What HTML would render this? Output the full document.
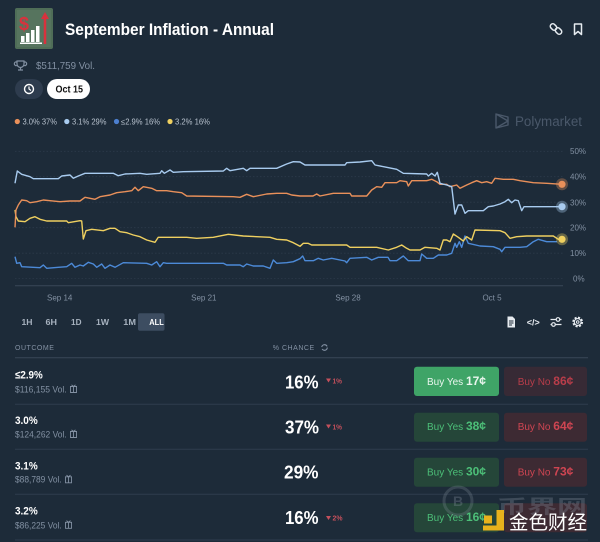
<!DOCTYPE html>
<html><head><meta charset="utf-8"><style>
html,body{margin:0;padding:0;background:#1d2b39;}
svg{display:block;}
text{font-family:"Liberation Sans","Noto Sans CJK SC",sans-serif;}
</style></head><body>
<svg width="600" height="542" viewBox="0 0 600 542" xmlns="http://www.w3.org/2000/svg">
<rect width="600" height="542" fill="#1d2b39"/>

<!-- market icon -->
<rect x="15" y="8" width="38" height="41" rx="2" fill="#4f6d57"/>
<rect x="17" y="10" width="34" height="37" fill="#5b7a62" opacity="0.6"/>
<text x="19" y="30" font-size="18" font-weight="bold" fill="#d8323d">$</text>
<rect x="21" y="36" width="3.5" height="6" fill="#fff"/>
<rect x="26" y="33" width="3.5" height="9" fill="#fff"/>
<rect x="31" y="30" width="3.5" height="12" fill="#fff"/>
<rect x="36" y="26" width="3.5" height="16" fill="#fff"/>
<rect x="20" y="42.5" width="22" height="1.5" fill="#fff"/>
<path d="M45,44 V17" stroke="#d8323d" stroke-width="2.5"/>
<path d="M41,19 L45,12 L49,19 Z" fill="#d8323d"/>

<!-- title -->
<text x="65" y="35" font-size="17" font-weight="bold" fill="#ffffff" textLength="209" lengthAdjust="spacingAndGlyphs">September Inflation - Annual</text>

<!-- header icons -->
<g stroke="#e6ebf0" stroke-width="1.5" fill="none">
<rect x="550" y="24.5" width="7" height="5" rx="2.5" transform="rotate(45 553.5 27)"/>
<rect x="555" y="28.5" width="7" height="5" rx="2.5" transform="rotate(45 558.5 31)"/>
<path d="M574.5,24 H581.5 V34.5 L578,31.5 L574.5,34.5 Z" stroke-linejoin="round"/>
</g>

<!-- trophy + vol -->
<g stroke="#8391a3" stroke-width="1.2" fill="none">
<path d="M17,61 H24 V64 A3.5,3.5 0 0 1 17,64 Z"/>
<path d="M17,62 H15.5 A1.8,1.8 0 0 0 17,65.5 M24,62 H25.5 A1.8,1.8 0 0 1 24,65.5"/>
<path d="M20.5,67.5 V69.5 M18,70 H23"/>
</g>
<text x="36" y="69" font-size="10.5" fill="#8391a3" textLength="59" lengthAdjust="spacingAndGlyphs">$511,759 Vol.</text>

<!-- clock button & date pill -->
<rect x="15" y="79" width="28" height="20" rx="10" fill="#2e3c4e"/>
<circle cx="29" cy="89" r="4.5" stroke="#ffffff" stroke-width="1.4" fill="none"/>
<path d="M29,86.5 V89 L31,90.5" stroke="#ffffff" stroke-width="1.2" fill="none"/>
<rect x="47" y="79" width="43" height="20" rx="10" fill="#ffffff"/>
<text x="55.5" y="92.7" font-size="10.5" font-weight="bold" fill="#111" textLength="27.5" lengthAdjust="spacingAndGlyphs">Oct 15</text>

<!-- legend -->
<circle cx="17.3" cy="121.5" r="2.6" fill="#e9905a"/>
<text x="22.5" y="124.3" font-size="8" fill="#b8c2ce" textLength="34.5" lengthAdjust="spacingAndGlyphs">3.0% 37%</text>
<circle cx="66.8" cy="121.5" r="2.6" fill="#a8cbef"/>
<text x="72" y="124.3" font-size="8" fill="#b8c2ce" textLength="34.5" lengthAdjust="spacingAndGlyphs">3.1% 29%</text>
<circle cx="116.5" cy="121.5" r="2.6" fill="#4c7fcf"/>
<text x="121" y="124.3" font-size="8" fill="#b8c2ce" textLength="39" lengthAdjust="spacingAndGlyphs">≤2.9% 16%</text>
<circle cx="170" cy="121.5" r="2.6" fill="#efd060"/>
<text x="175" y="124.3" font-size="8" fill="#b8c2ce" textLength="35" lengthAdjust="spacingAndGlyphs">3.2% 16%</text>

<!-- Polymarket watermark -->
<g stroke="#4a586a" stroke-width="1.4" fill="none" stroke-linejoin="round">
<path d="M496,114 L508,117 V125 L496,128 Z"/>
<path d="M496,114 L508,121 L496,128"/>
</g>
<text x="515" y="126" font-size="13.5" fill="#4a586a" textLength="67" lengthAdjust="spacingAndGlyphs">Polymarket</text>

<!-- grid -->
<g stroke="#2c3a4a" stroke-width="0.8" stroke-dasharray="1.5,2">
<line x1="15" y1="151.3" x2="563" y2="151.3"/>
<line x1="15" y1="176.7" x2="563" y2="176.7"/>
<line x1="15" y1="202.2" x2="563" y2="202.2"/>
<line x1="15" y1="227.7" x2="563" y2="227.7"/>
<line x1="15" y1="253.2" x2="563" y2="253.2"/>
<line x1="15" y1="278.5" x2="563" y2="278.5"/>
</g>
<line x1="15" y1="285.7" x2="563" y2="285.7" stroke="#3a4859" stroke-width="1"/>

<!-- y labels -->
<g font-size="8" fill="#8391a3">
<text x="570" y="154.2">50%</text>
<text x="570" y="179.6">40%</text>
<text x="570" y="205.3">30%</text>
<text x="570" y="230.6">20%</text>
<text x="570" y="256.2">10%</text>
<text x="573" y="281.3">0%</text>
</g>
<!-- x labels -->
<g font-size="8" fill="#8391a3" text-anchor="middle">
<text x="59.7" y="300.5">Sep 14</text>
<text x="203.8" y="300.5">Sep 21</text>
<text x="348" y="300.5">Sep 28</text>
<text x="492" y="300.5">Oct 5</text>
</g>

<!-- series -->
<g fill="none" stroke-width="1.4" stroke-linejoin="round">
<polyline stroke="#4c8ad8" points="15,256.7 16.7,263.3 20,262.7 21.7,266.7 40,267.7 43.3,265 46.7,268.3 58.3,267.3 66.7,266.7 71.7,263.3 75,267.3 80,265 83.3,266 88.3,262.3 93.3,264 96.7,267.3 101.7,264 105,268.3 110,265 115,267.3 123.3,262.7 146.7,263.3 151.7,265 156.7,261.7 160,266.7 163.3,262.7 166.7,263.3 223.3,263.3 226.7,265 240,265 243.3,266.7 246.7,264 253.3,266 263.3,266 270,268.3 273.3,260 276.7,263.3 286.7,262.7 293.3,261.7 300,258.7 302.7,256 305,260.7 313.3,260.7 318.3,258.3 323.3,260 331.7,258.3 345,261 346.7,262.7 350,258.3 366.7,257.3 371.7,260 378.3,257.3 388,257.3 390,260.7 396.7,260.7 403.3,256 408.3,260.7 420,260.7 421.7,254 426.7,258.3 433.3,258.3 438.3,255 446.7,255 451.7,253.3 455,243.3 456.7,247.3 459.3,241.7 461.7,247.3 465,236 468.3,243.3 480,246 493.3,246.7 500,249.3 501.7,251.7 505,247.3 520,247.3 526.7,246.7 533.3,241.7 538.3,239.3 546.7,241.7 557,241.7"/>
<polyline stroke="#efd060" points="15,210 16,216.7 18.3,221 25,221.7 30,218.3 35,216.7 40,219.3 46.7,221 66.7,221 68.3,222.7 80,220.7 81.7,221 83.3,239 86,230.7 91.7,229.3 103.3,230.7 110,228.3 115,228.3 120,231.7 126.7,232.7 133.3,235 140,236.7 146.7,240 155,242.3 158.3,237.3 163.3,237.3 186.7,237.3 196.7,238.3 213.3,237.3 228.3,234.3 243.3,236 270,237.3 276.7,239.3 286.7,240 293.3,242.7 300,246.3 303.3,243.3 308,243.3 311.7,245 346.7,245 350,247.3 376.7,247.3 388.3,250 396.7,247.3 401.7,245 406.7,248.3 410,250 420,250 425,247.3 436.7,248.3 440,250 443.3,240 446.7,240 450,241.7 453.3,234 458.3,237.3 463.3,241 466.7,236.7 471.7,240 475,230 500,230.7 505,232.7 510,238.3 516.7,236.7 526.7,236 553.3,236 558.3,239.3 562,239.3"/>
<polyline stroke="#e9905a" points="15,227.3 16,210 18.3,205 21.7,200 26.7,200.7 30,202.7 36.7,201.7 43.3,200 50,200.7 60,201.7 70,201 80,201 85,197.3 95,199.3 100,196.7 110,195 116.7,192.7 125,191.7 131.7,190.7 135,187.3 138.3,190.7 143.3,186.7 151.7,188.3 156.7,190.7 166.7,190.7 173.3,191.7 181.7,192.7 186.7,196 233.3,196.7 240,197.3 246.7,194.3 253.3,196.7 266.7,194 276.7,193.3 286.7,193.3 291.7,195 300,196 313,196 316.7,194 320,196 333.3,193.3 350,193.3 351.7,196 366.7,196 371.7,190 376.7,186.7 381.7,187.3 385,182.7 396.7,182.7 400,180.7 406.7,181.7 408.3,186 411.7,180.7 426.7,180.7 431.7,179.3 436.7,181.7 440,184.3 446.7,184.3 450,186.7 456.7,185 460,188.3 466.7,185 471.7,182.7 476.7,180.7 481.7,182.7 486.7,181.7 491.7,183.3 495,178.3 503.3,179.3 513.3,179.3 520,180.7 533.3,182.7 546.7,183.3 562,184.3"/>
<polyline stroke="#a8cbef" points="15,183.3 17.3,171 21.7,174.3 30,176.7 33.3,178.7 58.3,178.7 61.7,176 70,175 73.3,178.3 78.3,176 85,173.3 113.3,173.3 118.3,175.7 125,174 140,173.3 146.7,174.3 160,173.3 161.7,170.7 164.3,173.3 170,170 173.3,172.3 183.3,171.7 223.3,171 226.7,168.3 230,170.7 243.3,168.3 246.7,170.7 250,168.3 276.7,168.3 286.7,164 293.3,161.7 300,162 305,165 345,165 346.7,162.7 360,162 371.7,160.7 375,165 386.7,167.3 396.7,169.3 403.3,173.3 426.7,174 428.3,176 431.7,173.3 435,176 437.3,172.3 440,183.3 446.7,185 451.7,186.7 455,214 458.3,205 461.7,205 465,213.3 468.3,210.7 483.3,210.7 488.3,206.7 493.3,206 500,204 505,201.7 508.3,199.3 511.7,202.7 515,200 518.3,200.7 521.7,210.7 524,206.7 562,206.7"/>
</g>
<!-- end dots -->
<circle cx="562" cy="184.3" r="6" fill="#e9905a" opacity="0.35"/>
<circle cx="562" cy="184.3" r="3.6" fill="#e9905a"/>
<circle cx="562" cy="206.7" r="6" fill="#a8cbef" opacity="0.35"/>
<circle cx="562" cy="206.7" r="3.6" fill="#a8cbef"/>
<circle cx="562" cy="239.3" r="6" fill="#efd060" opacity="0.35"/>
<circle cx="562" cy="239.3" r="3.6" fill="#efd060"/>

<!-- time tabs -->
<g font-size="8.5" font-weight="bold" fill="#a7b2bf">
<text x="21.5" y="325" textLength="11" lengthAdjust="spacingAndGlyphs">1H</text>
<text x="45.5" y="325" textLength="11.5" lengthAdjust="spacingAndGlyphs">6H</text>
<text x="71" y="325" textLength="10.5" lengthAdjust="spacingAndGlyphs">1D</text>
<text x="96" y="325" textLength="13" lengthAdjust="spacingAndGlyphs">1W</text>
<text x="123.3" y="325" textLength="12.7" lengthAdjust="spacingAndGlyphs">1M</text>
</g>
<rect x="138" y="313.3" width="26.5" height="17.5" rx="2" fill="#3d4d61"/>
<text x="149.3" y="325" font-size="8.5" font-weight="bold" fill="#ffffff" textLength="14.5" lengthAdjust="spacingAndGlyphs">ALL</text>

<!-- right tool icons -->
<path d="M507.5,316.5 H512.5 L515,319 V327.5 H507.5 Z" fill="#e6ebf0"/>
<path d="M509,321 H513.5 M509,323 H513.5 M509,325 H512" stroke="#1d2b39" stroke-width="0.9"/>
<text x="533.3" y="325.3" font-size="9" font-weight="bold" fill="#e6ebf0" text-anchor="middle">&lt;/&gt;</text>
<g stroke="#e6ebf0" stroke-width="1.3" fill="none">
<path d="M550.5,319.5 H561.5 M550.5,324.5 H561.5"/>
</g>
<circle cx="558" cy="319.5" r="1.8" fill="#1d2b39" stroke="#e6ebf0" stroke-width="1.2"/>
<circle cx="553.5" cy="324.5" r="1.8" fill="#1d2b39" stroke="#e6ebf0" stroke-width="1.2"/>
<circle cx="577.7" cy="322" r="4.3" fill="none" stroke="#e6ebf0" stroke-width="2.2" stroke-dasharray="2,1.4"/>
<circle cx="577.7" cy="322" r="3.4" fill="none" stroke="#e6ebf0" stroke-width="1.1"/>
<circle cx="577.7" cy="322" r="1.3" fill="none" stroke="#e6ebf0" stroke-width="1"/>

<!-- table header -->
<text x="15" y="350" font-size="7" fill="#8391a3" letter-spacing="1.1" textLength="40" lengthAdjust="spacing">OUTCOME</text>
<text x="272.7" y="350" font-size="7" fill="#8391a3" letter-spacing="1" textLength="42.5" lengthAdjust="spacing">% CHANCE</text>
<circle cx="324.5" cy="347.5" r="2.8" fill="none" stroke="#8391a3" stroke-width="1.1" stroke-dasharray="7,2"/>
<line x1="15" y1="357.7" x2="588" y2="357.7" stroke="#3a4859" stroke-width="1"/>

<!-- row dividers -->
<g stroke="#2f3d4e" stroke-width="1">
<line x1="15" y1="404.3" x2="588" y2="404.3"/>
<line x1="15" y1="449.3" x2="588" y2="449.3"/>
<line x1="15" y1="494.3" x2="588" y2="494.3"/>
<line x1="15" y1="540" x2="588" y2="540"/>
</g>

<!-- rows: labels -->
<g font-weight="bold" fill="#ffffff" font-size="11">
<text x="15" y="378.3" textLength="27.7" lengthAdjust="spacingAndGlyphs">≤2.9%</text>
<text x="15" y="424" textLength="22.7" lengthAdjust="spacingAndGlyphs">3.0%</text>
<text x="15" y="469.3" textLength="22.7" lengthAdjust="spacingAndGlyphs">3.1%</text>
<text x="15" y="514.3" textLength="22.7" lengthAdjust="spacingAndGlyphs">3.2%</text>
</g>
<g font-size="9" fill="#8391a3">
<text x="15" y="392.3" textLength="51.7" lengthAdjust="spacingAndGlyphs">$116,155 Vol.</text>
<text x="15" y="437.3" textLength="51.7" lengthAdjust="spacingAndGlyphs">$124,262 Vol.</text>
<text x="15" y="482.7" textLength="46.7" lengthAdjust="spacingAndGlyphs">$88,789 Vol.</text>
<text x="15" y="528.3" textLength="46.7" lengthAdjust="spacingAndGlyphs">$86,225 Vol.</text>
</g>
<!-- gift icons -->
<g stroke="#8391a3" stroke-width="0.9" fill="none">
<path d="M70.5,386.5 H76.5 V392.5 H70.5 Z M70,386.5 H77 M73.5,386.5 V392.5 M73.5,386.5 L71.5,384.8 M73.5,386.5 L75.5,384.8"/>
<path d="M70.5,431.5 H76.5 V437.5 H70.5 Z M70,431.5 H77 M73.5,431.5 V437.5 M73.5,431.5 L71.5,429.8 M73.5,431.5 L75.5,429.8"/>
<path d="M65.5,476.8 H71.5 V482.8 H65.5 Z M65,476.8 H72 M68.5,476.8 V482.8 M68.5,476.8 L66.5,475.1 M68.5,476.8 L70.5,475.1"/>
<path d="M65.5,522.3 H71.5 V528.3 H65.5 Z M65,522.3 H72 M68.5,522.3 V528.3 M68.5,522.3 L66.5,520.6 M68.5,522.3 L70.5,520.6"/>
</g>

<!-- chances -->
<g font-weight="bold" fill="#ffffff" font-size="18.5">
<text x="285" y="388.3" textLength="33.5" lengthAdjust="spacingAndGlyphs">16%</text>
<text x="285" y="433.3" textLength="34" lengthAdjust="spacingAndGlyphs">37%</text>
<text x="284" y="478.3" textLength="34.5" lengthAdjust="spacingAndGlyphs">29%</text>
<text x="285" y="524" textLength="33.5" lengthAdjust="spacingAndGlyphs">16%</text>
</g>
<g fill="#c5505c">
<path d="M326,378.5 H331 L328.5,382.5 Z"/>
<text x="332.5" y="383.3" font-size="7.5" font-weight="bold" textLength="9.5" lengthAdjust="spacingAndGlyphs">1%</text>
<path d="M326,424.5 H331 L328.5,428.5 Z"/>
<text x="332.5" y="429.3" font-size="7.5" font-weight="bold" textLength="9.5" lengthAdjust="spacingAndGlyphs">1%</text>
<path d="M326,516 H331 L328.5,520 Z"/>
<text x="332.5" y="520.7" font-size="7.5" font-weight="bold" textLength="10" lengthAdjust="spacingAndGlyphs">2%</text>
</g>

<!-- buttons row 1 -->
<rect x="414" y="366.7" width="85" height="29.3" rx="3" fill="#3fa467"/>
<text x="456.5" y="385" text-anchor="middle" fill="#eaf6ee"><tspan font-size="10">Buy Yes </tspan><tspan font-size="12" font-weight="bold">17¢</tspan></text>
<rect x="504" y="366.7" width="83" height="29.3" rx="3" fill="#372a35"/>
<text x="545.5" y="385" text-anchor="middle" fill="#b93d4a"><tspan font-size="10">Buy No </tspan><tspan font-size="12" font-weight="bold">86¢</tspan></text>

<!-- row 2 -->
<rect x="414" y="412.7" width="85" height="29" rx="3" fill="#254639"/>
<text x="456.5" y="430" text-anchor="middle" fill="#4cbf78"><tspan font-size="10">Buy Yes </tspan><tspan font-size="12" font-weight="bold">38¢</tspan></text>
<rect x="504" y="412.7" width="83" height="29" rx="3" fill="#3d2a33"/>
<text x="545.5" y="430" text-anchor="middle" fill="#cf4552"><tspan font-size="10">Buy No </tspan><tspan font-size="12" font-weight="bold">64¢</tspan></text>

<!-- row 3 -->
<rect x="414" y="457.7" width="85" height="29" rx="3" fill="#254639"/>
<text x="456.5" y="475.3" text-anchor="middle" fill="#4cbf78"><tspan font-size="10">Buy Yes </tspan><tspan font-size="12" font-weight="bold">30¢</tspan></text>
<rect x="504" y="457.7" width="83" height="29" rx="3" fill="#3d2a33"/>
<text x="545.5" y="475.3" text-anchor="middle" fill="#cf4552"><tspan font-size="10">Buy No </tspan><tspan font-size="12" font-weight="bold">73¢</tspan></text>

<!-- row 4 -->
<rect x="414" y="503.3" width="85" height="29" rx="3" fill="#254639"/>
<text x="456.5" y="521" text-anchor="middle" fill="#4cbf78"><tspan font-size="10">Buy Yes </tspan><tspan font-size="12" font-weight="bold">16¢</tspan></text>
<rect x="504" y="503.3" width="83" height="29" rx="3" fill="#3d2a33"/>

<!-- overlay watermark -->
<circle cx="458" cy="501" r="14" fill="none" stroke="#8a96a3" stroke-width="3" opacity="0.25"/>
<text x="458" y="506" font-size="14" font-weight="bold" fill="#8a96a3" opacity="0.3" text-anchor="middle">B</text>
<text x="497" y="513" font-size="19" font-weight="bold" fill="#8a96a3" opacity="0.3" textLength="90" lengthAdjust="spacingAndGlyphs">币界网</text>
<rect x="484" y="515.5" width="8" height="8" fill="#e8b21c"/>
<path d="M496.5,510 H504 V530.5 H483 V525.5 H496.5 Z" fill="#e8b21c"/>
<text x="509" y="529" font-size="19.5" fill="#ffffff" textLength="78" lengthAdjust="spacingAndGlyphs">金色财经</text>
</svg>
</body></html>
